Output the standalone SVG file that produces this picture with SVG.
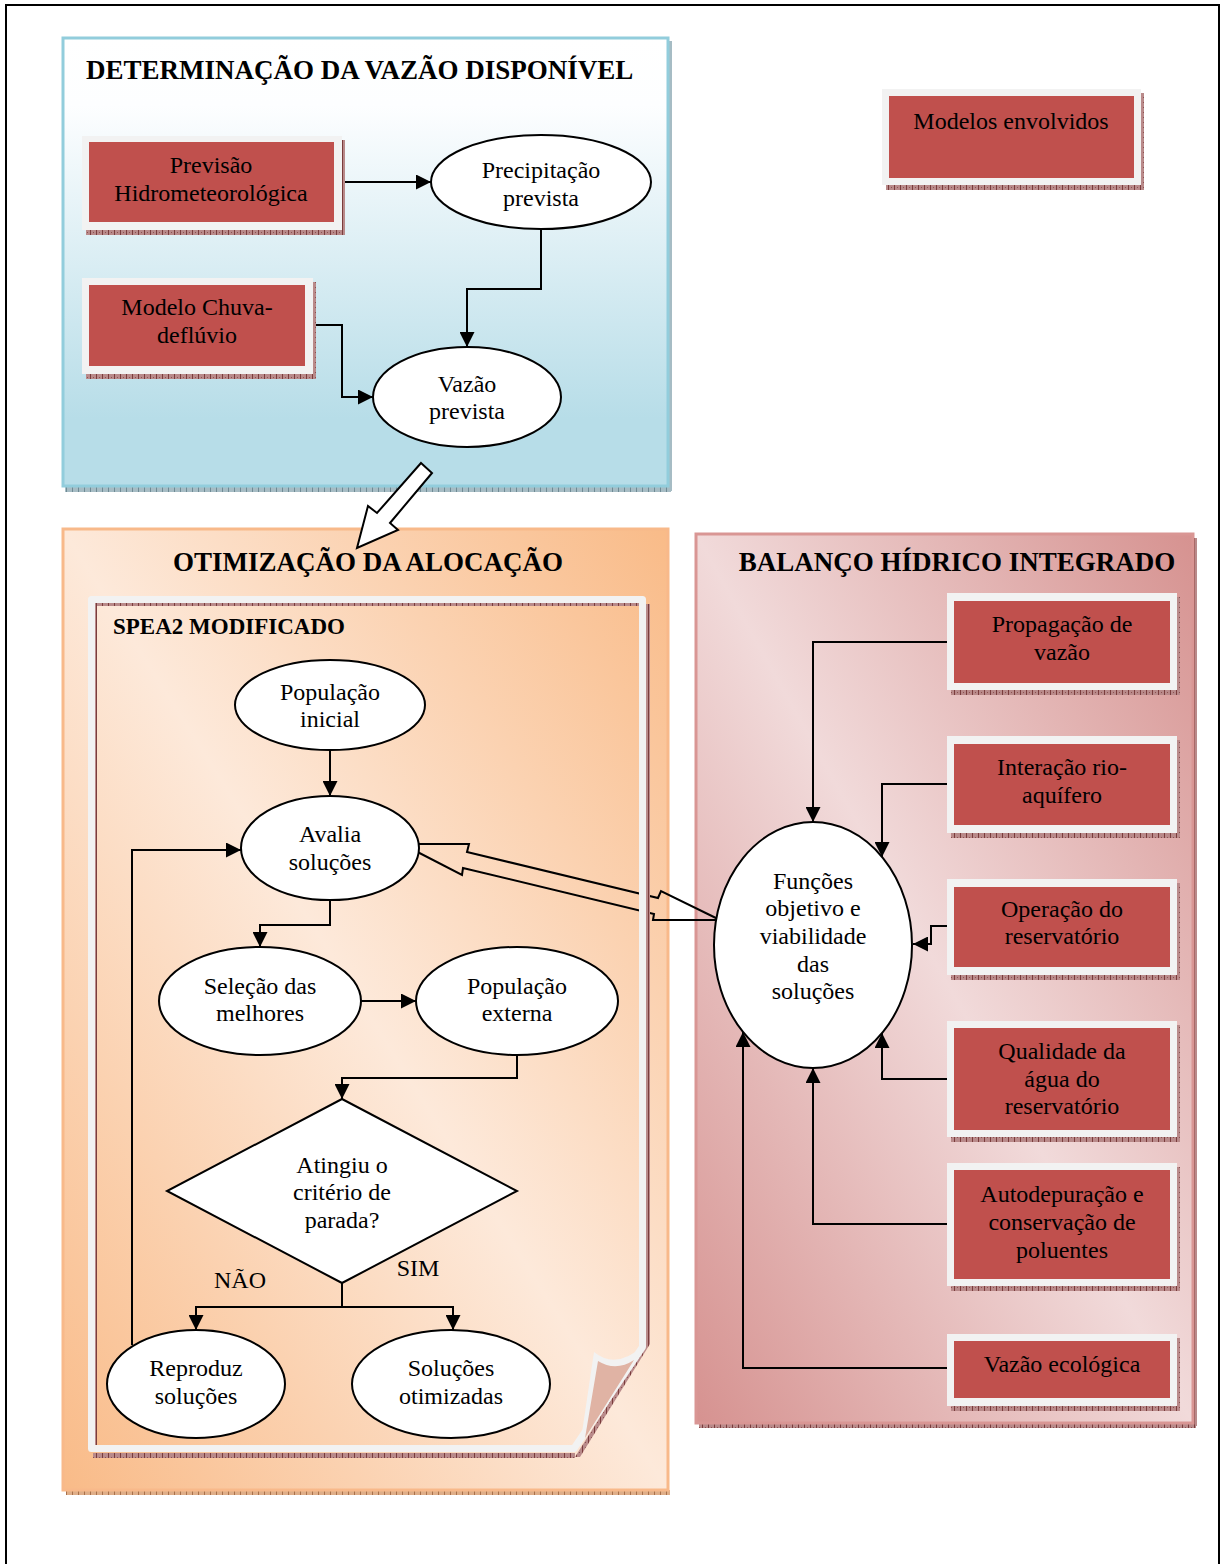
<svg xmlns="http://www.w3.org/2000/svg" width="1223" height="1564" viewBox="0 0 1223 1564">
<defs>
<style>
text{font-family:"Liberation Serif","Times New Roman",serif;font-size:24px;fill:#000;text-anchor:middle}
.title{font-weight:bold;font-size:27px}
.sub{font-weight:bold;font-size:23px;text-anchor:start}
.frame{fill:#f2f2f2}
.red{fill:#c0504d}
.ell{fill:#fff;stroke:#000;stroke-width:2}
.con{fill:none;stroke:#000;stroke-width:2;marker-end:url(#ah)}
.line{fill:none;stroke:#000;stroke-width:2}
.sh{fill:url(#hatch)}
</style>
<marker id="ah" viewBox="0 0 10 10" refX="10" refY="5" markerUnits="userSpaceOnUse" markerWidth="15" markerHeight="15" orient="auto">
<path d="M0,0 L10,5 L0,10 z" fill="#000"/>
</marker>
<pattern id="hatch" width="6" height="5" patternUnits="userSpaceOnUse">
<rect width="6" height="5" fill="#b98a8a"/>
<rect x="0" y="0" width="1" height="5" fill="#7a3c3c"/>
<rect x="3" y="2" width="1" height="1" fill="#8c5050"/>
</pattern>
<pattern id="hatchB" width="6" height="5" patternUnits="userSpaceOnUse">
<rect width="6" height="5" fill="#a6bcc4"/>
<rect x="0" y="0" width="1" height="5" fill="#6f8a94"/>
</pattern>
<pattern id="hatchO" width="6" height="5" patternUnits="userSpaceOnUse">
<rect width="6" height="5" fill="#dfae88"/>
<rect x="0" y="0" width="1" height="5" fill="#a8704a"/>
</pattern>
<linearGradient id="gBlue" x1="0" y1="0" x2="0" y2="1">
<stop offset="0" stop-color="#ffffff"/>
<stop offset="0.15" stop-color="#fdfeff"/>
<stop offset="0.85" stop-color="#b7dde8"/>
<stop offset="1" stop-color="#b7dde8"/>
</linearGradient>
<linearGradient id="gOrange" x1="0" y1="1" x2="1" y2="0">
<stop offset="0" stop-color="#f9bb88"/>
<stop offset="0.5" stop-color="#fde9da"/>
<stop offset="1" stop-color="#f9bb88"/>
</linearGradient>
<linearGradient id="gPink" x1="0" y1="1" x2="1" y2="0">
<stop offset="0" stop-color="#d69290"/>
<stop offset="0.5" stop-color="#f1dada"/>
<stop offset="1" stop-color="#d69290"/>
</linearGradient>
</defs>

<rect width="1223" height="1564" fill="#fff"/>
<path d="M6,1564 V5 H1219 V1564" fill="none" stroke="#000" stroke-width="2"/>

<!-- Panel: Determinação -->
<g id="panel-determinacao">
<rect x="65" y="487" width="606" height="5" fill="url(#hatchB)"/>
<rect x="668" y="41" width="4" height="450" fill="url(#hatchB)"/>
<rect x="63" y="38" width="605" height="448" fill="url(#gBlue)" stroke="#92cddc" stroke-width="3"/>
<text class="title" x="86" y="79" style="text-anchor:start">DETERMINAÇÃO DA VAZÃO DISPONÍVEL</text>
</g>

<!-- Panel: Otimização -->
<g id="panel-otimizacao">
<rect x="66" y="1490" width="604" height="5" fill="url(#hatchO)"/>
<rect x="63" y="529" width="605" height="961" fill="url(#gOrange)" stroke="#f8b98a" stroke-width="3"/>
<text class="title" x="368" y="571">OTIMIZAÇÃO DA ALOCAÇÃO</text>
</g>

<!-- Panel: Balanço -->
<g id="panel-balanco">
<rect x="699" y="1423" width="497" height="5" class="sh"/>
<rect x="1193" y="538" width="4" height="888" class="sh"/>
<rect x="696" y="534" width="497" height="889" fill="url(#gPink)" stroke="#d99694" stroke-width="3"/>
<text class="title" x="957" y="571">BALANÇO HÍDRICO INTEGRADO</text>
</g>

<!-- Connectors -->
<g id="connectors">
<path class="con" d="M344,182 H431"/>
<path class="con" d="M541,229 V289 H467 V347"/>
<path class="con" d="M313,325 H342 V397 H373"/>
<path d="M421,463 L432,473 L390,523 L398,530 L357,548 L368,506 L377,513 Z" fill="#fff" stroke="#000" stroke-width="2"/>
<path d="M402,844 L469,844 L467,852 L658,898 L661,891 L720,920 L653,920 L654,914 L463,868 L462,875 Z" fill="none" stroke="#000" stroke-width="2"/>
<path class="con" d="M330,750 V796"/>
<path class="con" d="M330,900 V925 H260 V947"/>
<path class="con" d="M361,1001 H416"/>
<path class="con" d="M517,1055 V1078 H342 V1099"/>
<path class="line" d="M342,1283 V1307"/>
<path class="con" d="M342,1307 H196 V1330"/>
<path class="con" d="M342,1307 H453 V1330"/>
<path class="con" d="M132,1345 V850 H241"/>
<path class="con" d="M947,642 H813 V822"/>
<path class="con" d="M947,784 H882 V857"/>
<path class="con" d="M947,926 H931 V944 H913"/>
<path class="con" d="M947,1079 H882 V1033"/>
<path class="con" d="M947,1224 H813 V1068"/>
<path class="con" d="M947,1368 H743 V1032"/>
</g>

<!-- SPEA2 page -->
<g id="spea2">
<rect x="646" y="604" width="4" height="740" class="sh"/>
<rect x="93" y="1453" width="482" height="5" class="sh"/>
<path d="M646,1344 L650,1344 L580,1457 L575,1457 Z" class="sh"/>
<rect x="92" y="600" width="549" height="6" class="sh"/>
<rect x="92" y="600" width="5" height="848" class="sh"/>
<path d="M91.5,599.5 H642.5 V1347 L574,1448.5 H91.5 Z" fill="none" stroke="#f2f2f2" stroke-width="7" stroke-linejoin="round"/>
<path d="M594,1352 Q616,1370 643,1346 L580,1446 Z" fill="#f2f2f2"/>
<path d="M598,1361 Q616,1372 634,1360 L585,1438 Z" fill="#e0b3a4"/>
<text class="sub" x="113" y="634">SPEA2 MODIFICADO</text>
</g>

<!-- Nodes: top panel -->
<g id="n-previsao">
<rect class="frame" x="82" y="136" width="260" height="94"/>
<rect x="86" y="230" width="258" height="5" class="sh"/>
<rect x="342" y="140" width="3" height="95" class="sh"/>
<rect class="red" x="89" y="142" width="245" height="80"/>
<text x="211" y="173">Previsão</text>
<text x="211" y="201">Hidrometeorológica</text>
</g>
<g id="n-precipitacao">
<ellipse class="ell" cx="541" cy="182" rx="110" ry="47"/>
<text x="541" y="178">Precipitação</text>
<text x="541" y="206">prevista</text>
</g>
<g id="n-modelo">
<rect class="frame" x="82" y="278" width="231" height="96"/>
<rect x="86" y="374" width="229" height="5" class="sh"/>
<rect x="313" y="282" width="3" height="97" class="sh"/>
<rect class="red" x="89" y="285" width="216" height="81"/>
<text x="197" y="315">Modelo Chuva-</text>
<text x="197" y="343">deflúvio</text>
</g>
<g id="n-vazao">
<ellipse class="ell" cx="467" cy="397" rx="94" ry="50"/>
<text x="467" y="392">Vazão</text>
<text x="467" y="419">prevista</text>
</g>

<!-- Legend -->
<g id="n-legenda">
<rect class="frame" x="882" y="89" width="259" height="96"/>
<rect x="886" y="185" width="257" height="5" class="sh"/>
<rect x="1141" y="93" width="3" height="97" class="sh"/>
<rect class="red" x="889" y="96" width="245" height="82"/>
<text x="1011" y="129">Modelos envolvidos</text>
</g>

<!-- Nodes: SPEA2 -->
<g id="n-pop-inicial">
<ellipse class="ell" cx="330" cy="705" rx="95" ry="45"/>
<text x="330" y="700">População</text>
<text x="330" y="727">inicial</text>
</g>
<g id="n-avalia">
<ellipse class="ell" cx="330" cy="848" rx="89" ry="52"/>
<text x="330" y="842">Avalia</text>
<text x="330" y="870">soluções</text>
</g>
<g id="n-selecao">
<ellipse class="ell" cx="260" cy="1001" rx="101" ry="54"/>
<text x="260" y="994">Seleção das</text>
<text x="260" y="1021">melhores</text>
</g>
<g id="n-pop-externa">
<ellipse class="ell" cx="517" cy="1001" rx="101" ry="54"/>
<text x="517" y="994">População</text>
<text x="517" y="1021">externa</text>
</g>
<g id="n-criterio">
<path d="M342,1099 L517,1191 L342,1283 L167,1191 Z" fill="#fff" stroke="#000" stroke-width="2"/>
<text x="342" y="1173">Atingiu o</text>
<text x="342" y="1200">critério de</text>
<text x="342" y="1228">parada?</text>
</g>
<g id="labels">
<text x="240" y="1288">NÃO</text>
<text x="418" y="1276">SIM</text>
</g>
<g id="n-reproduz">
<ellipse class="ell" cx="196" cy="1384" rx="89" ry="54"/>
<text x="196" y="1376">Reproduz</text>
<text x="196" y="1404">soluções</text>
</g>
<g id="n-otimizadas">
<ellipse class="ell" cx="451" cy="1384" rx="99" ry="54"/>
<text x="451" y="1376">Soluções</text>
<text x="451" y="1404">otimizadas</text>
</g>

<!-- Nodes: Balanço -->
<g id="n-funcoes">
<ellipse class="ell" cx="813" cy="945" rx="99" ry="123"/>
<text x="813" y="889">Funções</text>
<text x="813" y="916">objetivo e</text>
<text x="813" y="944">viabilidade</text>
<text x="813" y="972">das</text>
<text x="813" y="999">soluções</text>
</g>
<g id="n-propagacao">
<rect class="frame" x="947" y="593" width="230" height="97"/>
<rect x="951" y="690" width="229" height="5" class="sh"/>
<rect x="1177" y="597" width="3" height="98" class="sh"/>
<rect class="red" x="954" y="601" width="216" height="82"/>
<text x="1062" y="632">Propagação de</text>
<text x="1062" y="660">vazão</text>
</g>
<g id="n-interacao">
<rect class="frame" x="947" y="736" width="230" height="97"/>
<rect x="951" y="833" width="229" height="5" class="sh"/>
<rect x="1177" y="740" width="3" height="98" class="sh"/>
<rect class="red" x="954" y="744" width="216" height="81"/>
<text x="1062" y="775">Interação rio-</text>
<text x="1062" y="803">aquífero</text>
</g>
<g id="n-operacao">
<rect class="frame" x="947" y="879" width="230" height="96"/>
<rect x="951" y="975" width="229" height="5" class="sh"/>
<rect x="1177" y="883" width="3" height="97" class="sh"/>
<rect class="red" x="954" y="887" width="216" height="80"/>
<text x="1062" y="917">Operação do</text>
<text x="1062" y="944">reservatório</text>
</g>
<g id="n-qualidade">
<rect class="frame" x="947" y="1021" width="230" height="116"/>
<rect x="951" y="1137" width="229" height="5" class="sh"/>
<rect x="1177" y="1025" width="3" height="117" class="sh"/>
<rect class="red" x="954" y="1028" width="216" height="102"/>
<text x="1062" y="1059">Qualidade da</text>
<text x="1062" y="1087">água do</text>
<text x="1062" y="1114">reservatório</text>
</g>
<g id="n-autodepuracao">
<rect class="frame" x="947" y="1163" width="230" height="123"/>
<rect x="951" y="1286" width="229" height="5" class="sh"/>
<rect x="1177" y="1167" width="3" height="124" class="sh"/>
<rect class="red" x="954" y="1170" width="216" height="109"/>
<text x="1062" y="1202">Autodepuração e</text>
<text x="1062" y="1230">conservação de</text>
<text x="1062" y="1258">poluentes</text>
</g>
<g id="n-vazao-ecologica">
<rect class="frame" x="947" y="1334" width="230" height="72"/>
<rect x="951" y="1406" width="229" height="5" class="sh"/>
<rect x="1177" y="1338" width="3" height="73" class="sh"/>
<rect class="red" x="954" y="1341" width="216" height="57"/>
<text x="1062" y="1372">Vazão ecológica</text>
</g>
</svg>
